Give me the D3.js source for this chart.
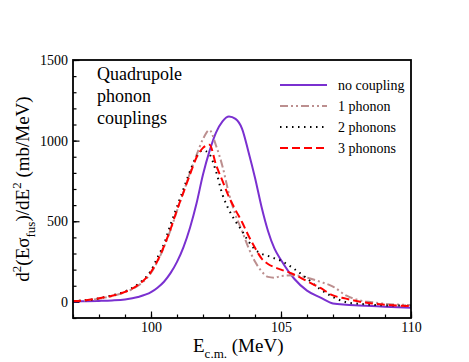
<!DOCTYPE html>
<html lang="en">
<head>
  <meta charset="UTF-8">
  <title>Quadrupole phonon couplings</title>
  <script src="https://cdnjs.cloudflare.com/ajax/libs/d3/7.8.5/d3.min.js"></script>
  <style>
    body { margin: 0; background: #fff; }
    svg text, svg tspan { font-family: "Liberation Serif", serif !important; }
    .curve { fill: none; stroke-width: 2px; }
  </style>
</head>
<body>
  <div id="graph"></div>
  <script>
    // energies (MeV) shared by all series
    var energy = [97, 97.5, 98, 98.5, 99, 99.5, 100, 100.25, 100.5, 100.75, 101, 101.25, 101.5, 101.75,
                  102, 102.25, 102.5, 102.75, 103, 103.25, 103.5, 103.75, 104, 104.25, 104.5, 104.75,
                  105, 105.5, 106, 106.5, 107, 107.5, 108, 108.5, 109, 109.5, 110];

    // d2(E sigma)/dE2 (mb/MeV)
    var noCoupling = [3, 4, 6, 9, 15, 30, 60, 88, 125, 178, 248, 340, 460, 610,
                      790, 935, 1050, 1120, 1150, 1135, 1075, 930, 770, 590, 440, 330,
                      260, 145, 70, 28, -10, -18, -22, -26, -30, -33, -36];
    var onePhonon  = [5, 10, 20, 36, 60, 100, 180, 250, 340, 445, 565, 680, 800, 910,
                      1010, 1065, 970, 840, 670, 540, 440, 335, 250, 190, 155, 150,
                      160, 165, 150, 125, 95, 40, 10, -2, -12, -17, -20];
    var twoPhonons = [5, 10, 22, 40, 65, 110, 195, 275, 360, 479, 590, 700, 810, 900,
                      940, 915, 810, 665, 570, 500, 440, 375, 325, 298, 285, 270,
                      255, 205, 145, 80, 30, -2, -12, -18, -22, -23, -24];
    var threePhonons = [5, 10, 22, 38, 62, 105, 185, 255, 345, 450, 570, 680, 790, 895,
                        955, 975, 850, 750, 650, 570, 495, 410, 335, 270, 235, 215,
                        200, 170, 128, 88, 40, 20, 2, -10, -18, -23, -26];

    var seriesNames = ["no coupling", "1 phonon", "2 phonons", "3 phonons"];
    var seriesValues = [noCoupling, onePhonon, twoPhonons, threePhonons];
    var seriesColors = ["#7a30d0", "#bc8f8f", "#000000", "#ff0000"];
    var seriesDash = [null, "8,3,2,3,2,3", "1.5,4.5", "8,4"];

    var xTicks = [100, 105, 110];
    var yTicks = [0, 500, 1000, 1500];

    var W = 469, H = 362;
    var margin = {top: 60, right: 58, bottom: 44, left: 73},
        width = W - margin.left - margin.right,
        height = H - margin.top - margin.bottom;

    var x = d3.scaleLinear().domain([97, 110]).range([0, width]);
    var y = d3.scaleLinear().domain([-100, 1500]).range([height, 0]);

    var svg = d3.select("#graph").append("svg")
        .attr("width", W)
        .attr("height", H)
        .style("display", "block")
      .append("g")
        .attr("transform", "translate(" + margin.left + "," + margin.top + ")");

    svg.append("clipPath").attr("id", "clip")
      .append("rect").attr("width", width).attr("height", height);

    // minor ticks
    svg.append("g")
        .attr("transform", "translate(0," + height + ")")
        .call(d3.axisBottom(x).tickValues(d3.range(97, 111, 1)).tickSize(-3.5).tickFormat(""))
        .call(function(g) { g.select(".domain").remove(); });
    svg.append("g")
        .call(d3.axisLeft(y).tickValues(d3.range(-100, 1501, 100)).tickSize(-3.5).tickFormat(""))
        .call(function(g) { g.select(".domain").remove(); });

    // major ticks
    var xAxis = svg.append("g")
        .attr("transform", "translate(0," + height + ")")
        .call(d3.axisBottom(x).tickValues(xTicks).tickSize(-6.5).tickPadding(4).tickFormat(d3.format("d")));
    var yAxis = svg.append("g")
        .call(d3.axisLeft(y).tickValues(yTicks).tickSize(-6.5).tickPadding(5).tickFormat(d3.format("d")));
    [xAxis, yAxis].forEach(function(a) {
      a.select(".domain").remove();
      a.attr("font-family", null).attr("font-size", null);
      a.selectAll("text").style("font-size", "14px");
    });
    svg.selectAll(".tick line").attr("stroke-width", 1.2);

    // curves
    var line = d3.line()
        .x(function(d, i) { return x(energy[i]); })
        .y(function(d) { return y(d); })
        .curve(d3.curveMonotoneX);

    var plot = svg.append("g").attr("clip-path", "url(#clip)");
    seriesValues.forEach(function(vals, k) {
      plot.append("path")
          .datum(vals)
          .attr("class", "curve")
          .attr("stroke", seriesColors[k])
          .attr("stroke-dasharray", seriesDash[k])
          .attr("d", line);
    });

    // frame
    svg.append("rect")
        .attr("width", width).attr("height", height)
        .attr("fill", "none").attr("stroke", "#000").attr("stroke-width", 1.8);

    // legend
    var legend = svg.append("g").attr("transform", "translate(207,25)");
    seriesNames.forEach(function(name, k) {
      var row = legend.append("g").attr("transform", "translate(0," + (k * 21) + ")");
      row.append("line")
          .attr("x1", 0).attr("x2", 47)
          .attr("stroke", seriesColors[k]).attr("stroke-width", 2)
          .attr("stroke-dasharray", seriesDash[k]);
      row.append("text").attr("x", 58).attr("y", 5).style("font-size", "14px").text(name);
    });

    // annotation
    var note = svg.append("text").attr("x", 24).attr("y", 20).style("font-size", "18px");
    ["Quadrupole", "phonon", "couplings"].forEach(function(t, i) {
      note.append("tspan").attr("x", 24).attr("dy", i ? 22 : 0).text(t);
    });

    // axis titles
    var xt = svg.append("text")
        .attr("x", 120).attr("y", 292)
        .style("font-size", "19px");
    xt.append("tspan").text("E");
    xt.append("tspan").attr("dy", 6).style("font-size", "13px").text("c.m.");
    xt.append("tspan").attr("dy", -6).text(" (MeV)");

    var yt = svg.append("text")
        .attr("transform", "translate(-44," + (height / 2) + ") rotate(-90)")
        .attr("text-anchor", "middle")
        .style("font-size", "19px");
    yt.append("tspan").text("d");
    yt.append("tspan").attr("dy", -8).style("font-size", "13px").text("2");
    yt.append("tspan").attr("dy", 8).text("(E\u03c3");
    yt.append("tspan").attr("dy", 6).style("font-size", "13px").text("fus");
    yt.append("tspan").attr("dy", -6).text(")/dE");
    yt.append("tspan").attr("dy", -8).style("font-size", "13px").text("2");
    yt.append("tspan").attr("dy", 8).text(" (mb/MeV)");

    d3.selectAll("text, tspan").style("font-family", "'Liberation Serif', serif", "important");
  </script>
</body>
</html>
